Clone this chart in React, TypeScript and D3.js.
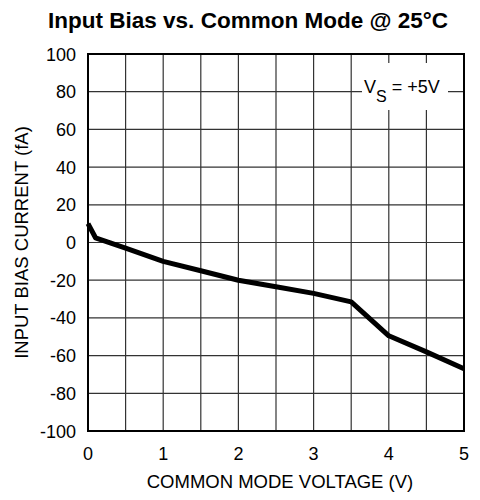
import * as d3 from 'd3';

// Curve
const voltage = [0, 0.1, 0.5, 1, 1.5, 2, 2.5, 3, 3.5, 4, 4.5, 5];
const biasCurrent = [10, 2.5, -3, -10, -15, -20, -23.5, -27, -31.5, -49.5, -58, -67];

const xTicks = [0, 1, 2, 3, 4, 5];
const yTicks = [-100, -80, -60, -40, -20, 0, 20, 40, 60, 80, 100];
const xGrid = d3.range(0, 5.01, 0.5);

const font = 'Arial, Helvetica, "Liberation Sans", sans-serif';

export default function App() {
  const width = 480;
  const height = 500;
  const margin = { top: 54, right: 16, bottom: 69, left: 88 };

  const x = d3.scaleLinear().domain([0, 5]).range([margin.left, width - margin.right]);
  const y = d3.scaleLinear().domain([-100, 100]).range([height - margin.bottom, margin.top]);

  const points = voltage.map((v, i) => [v, biasCurrent[i]] as [number, number]);
  const line = d3
    .line<[number, number]>()
    .x((d) => x(d[0]))
    .y((d) => y(d[1]));

  // white patch behind the supply label
  const labelBox = { x0: 362, x1: 448, y0: 63, y1: 110 };

  return (
    <svg
      width={width}
      height={height}
      style={{ position: 'absolute', left: 0, top: 0, background: '#fff' }}
    >
      <text
        x={48}
        y={27.5}
        fontFamily={font}
        fontWeight="bold"
        fontSize={21.5}
        textLength={400}
        lengthAdjust="spacingAndGlyphs"
      >
        Input Bias vs. Common Mode @ 25°C
      </text>

      {/* grid */}
      {xGrid.map((v) => (
        <line
          key={'gx' + v}
          x1={x(v)}
          x2={x(v)}
          y1={y(-100)}
          y2={y(100)}
          stroke="#333"
          strokeWidth={1.2}
        />
      ))}
      {yTicks.map((v) => (
        <line
          key={'gy' + v}
          x1={x(0)}
          x2={x(5)}
          y1={y(v)}
          y2={y(v)}
          stroke="#333"
          strokeWidth={1.2}
        />
      ))}

      {/* label */}
      <rect
        x={labelBox.x0}
        y={labelBox.y0}
        width={labelBox.x1 - labelBox.x0}
        height={labelBox.y1 - labelBox.y0}
        fill="#fff"
      />
      <text x={364} y={y(80) + 1} fontFamily={font} fontSize={18}>
        V
        <tspan dy={9} fontSize={16}>S</tspan>
        <tspan dy={-9}> = +5V</tspan>
      </text>

      {/* border */}
      <rect
        x={x(0)}
        y={y(100)}
        width={x(5) - x(0)}
        height={y(-100) - y(100)}
        fill="none"
        stroke="#000"
        strokeWidth={2}
      />

      {/* curve */}
      <path
        d={line(points) ?? ''}
        fill="none"
        stroke="#000"
        strokeWidth={5}
        strokeLinejoin="round"
      />

      {/* y tick labels */}
      {yTicks.map((v) => (
        <text
          key={'ty' + v}
          x={76}
          y={y(v) + 6.5}
          textAnchor="end"
          fontFamily={font}
          fontSize={18}
        >
          {v}
        </text>
      ))}

      {/* x tick labels */}
      {xTicks.map((v) => (
        <text
          key={'tx' + v}
          x={x(v)}
          y={460}
          textAnchor="middle"
          fontFamily={font}
          fontSize={18}
        >
          {v}
        </text>
      ))}

      <text
        x={280}
        y={488}
        textAnchor="middle"
        fontFamily={font}
        fontSize={18.5}
      >
        COMMON MODE VOLTAGE (V)
      </text>
      <text
        transform={`translate(28,${y(0)}) rotate(-90)`}
        textAnchor="middle"
        fontFamily={font}
        fontSize={18.5}
      >
        INPUT BIAS CURRENT (fA)
      </text>
    </svg>
  );
}
